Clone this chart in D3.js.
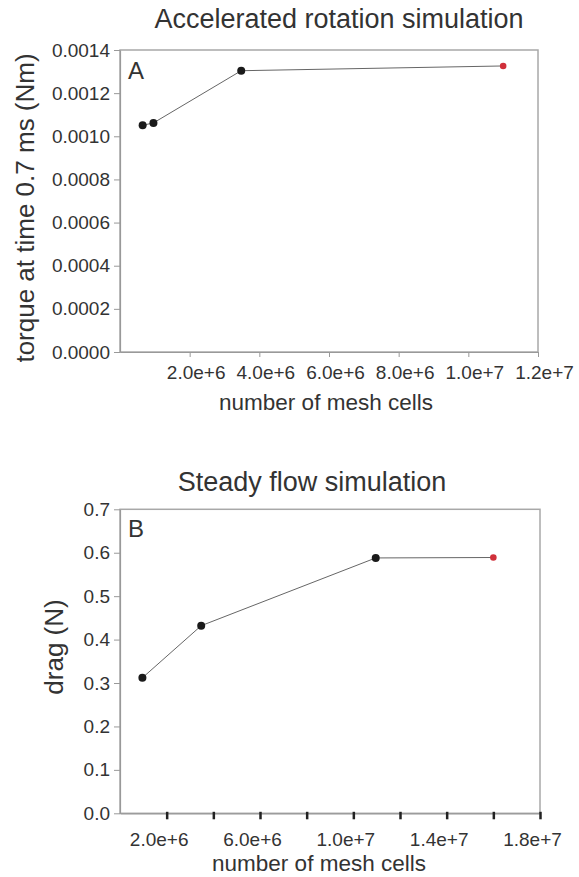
<!DOCTYPE html>
<html>
<head>
<meta charset="utf-8">
<script src="https://cdn.jsdelivr.net/npm/d3@7/dist/d3.min.js"></script>
<style>
  html, body { margin: 0; padding: 0; background: #fff; }
  svg { display: block; }
  text { font-family: "Liberation Sans", Arial, sans-serif; fill: #333; }
</style>
</head>
<body>
<svg id="chart" width="579" height="877"></svg>
<script>
// ---- Data ----
const cellsA = [0.65e6, 0.96e6, 3.48e6, 11.0e6];
const torqueA = [0.001051, 0.001062, 0.001304, 0.001326];
const cellsB = [0.96e6, 3.48e6, 10.96e6, 16.0e6];
const dragB = [0.312, 0.432, 0.588, 0.589];
const xTicksA = [2e6, 4e6, 6e6, 8e6, 10e6, 12e6];
const yTicksA = [0, 0.0002, 0.0004, 0.0006, 0.0008, 0.0010, 0.0012, 0.0014];
const xTicksB = [2e6, 4e6, 6e6, 8e6, 10e6, 12e6, 14e6, 16e6, 18e6];
const xLabelsB = [2e6, 6e6, 10e6, 14e6, 18e6];
const yTicksB = [0, 0.1, 0.2, 0.3, 0.4, 0.5, 0.6, 0.7];

const svg = d3.select("#chart");
const fmtE = d3.format(".1e");
const FONT = '"Liberation Sans", Arial, sans-serif';

function panel(cfg) {
  const g = svg.append("g");
  const x = d3.scaleLinear().domain(cfg.xDomain).range([cfg.left, cfg.right]);
  const y = d3.scaleLinear().domain(cfg.yDomain).range([cfg.bottom, cfg.top]);

  // frame
  g.append("rect")
    .attr("x", cfg.left).attr("y", cfg.top)
    .attr("width", cfg.right - cfg.left).attr("height", cfg.bottom - cfg.top)
    .attr("fill", "none").attr("stroke", "#a8a8a8").attr("stroke-width", 1.5);

  // y axis
  const ya = g.append("g").attr("transform", `translate(${cfg.left},0)`)
    .call(d3.axisLeft(y).tickValues(cfg.yTicks).tickFormat(d3.format(cfg.yFmt))
      .tickSizeInner(6).tickSizeOuter(0).tickPadding(4));
  ya.select(".domain").attr("stroke", "#999").attr("stroke-width", 1.2);
  ya.selectAll(".tick line").attr("stroke", "#999");
  ya.selectAll(".tick text").style("font-size", "19px").style("font-family", FONT).attr("fill", "#333");

  // x axis
  const xa = g.append("g").attr("transform", `translate(0,${cfg.bottom})`)
    .call(d3.axisBottom(x).tickValues(cfg.xTicks)
      .tickFormat(d => cfg.xLabels.includes(d) ? fmtE(d) : "")
      .tickSizeInner(cfg.xTickSize).tickSizeOuter(0).tickPadding(cfg.xPad));
  xa.select(".domain").attr("stroke", "#999").attr("stroke-width", 1.2);
  xa.selectAll(".tick line").attr("stroke", cfg.xTickColor).attr("stroke-width", cfg.xTickWidth)
    .attr("y1", cfg.xTickY1);
  xa.selectAll(".tick text").style("font-size", "19px").style("font-family", FONT)
    .attr("fill", "#333").attr("dx", cfg.xLabelDx);

  // line
  const pts = cfg.xs.map((v, i) => [v, cfg.ys[i]]);
  g.append("path").datum(pts)
    .attr("fill", "none").attr("stroke", "#666").attr("stroke-width", 1)
    .attr("d", d3.line().x(d => x(d[0])).y(d => y(d[1])));

  g.selectAll("circle").data(pts).enter().append("circle")
    .attr("cx", d => x(d[0])).attr("cy", d => y(d[1]))
    .attr("r", (d, i) => i === pts.length - 1 ? 3.3 : 4)
    .attr("fill", (d, i) => i === pts.length - 1 ? "#d0303a" : "#1a1a1a");

  // titles
  g.append("text").attr("x", cfg.titleX).attr("y", cfg.titleY)
    .attr("text-anchor", "middle").style("font-size", "27px").text(cfg.title);
  g.append("text").attr("x", cfg.left + 8).attr("y", cfg.letterY)
    .style("font-size", "24px").text(cfg.letter);
  g.append("text").attr("x", cfg.xTitleX).attr("y", cfg.xTitleY)
    .attr("text-anchor", "middle").style("font-size", "22.5px").text("number of mesh cells");
  g.append("text")
    .attr("transform", `translate(${cfg.yTitleX},${cfg.yTitleY}) rotate(-90)`)
    .attr("text-anchor", "middle").style("font-size", cfg.yTitleSize).text(cfg.yTitle);
}

panel({
  xDomain: [0, 1.2e7], yDomain: [0, 0.0014],
  left: 120, right: 538, top: 50, bottom: 352,
  xTicks: xTicksA, xLabels: xTicksA, yTicks: yTicksA, yFmt: ".4f",
  xTickSize: 5, xPad: 9, xTickColor: "#999", xTickWidth: 1, xTickY1: 0, xLabelDx: 6,
  xs: cellsA, ys: torqueA,
  title: "Accelerated rotation simulation", titleX: 339, titleY: 28,
  letter: "A", letterY: 79,
  xTitleX: 326, xTitleY: 410,
  yTitle: "torque at time 0.7 ms (Nm)", yTitleX: 34, yTitleY: 208, yTitleSize: "26px"
});

panel({
  xDomain: [0, 1.8e7], yDomain: [0, 0.7],
  left: 120, right: 540, top: 509.3, bottom: 813.3,
  xTicks: xTicksB, xLabels: xLabelsB, yTicks: yTicksB, yFmt: ".1f",
  xTickSize: 6, xPad: 13, xTickColor: "#222", xTickWidth: 2.5, xTickY1: -1.5, xLabelDx: -8,
  xs: cellsB, ys: dragB,
  title: "Steady flow simulation", titleX: 312, titleY: 490.5,
  letter: "B", letterY: 537,
  xTitleX: 319, xTitleY: 871,
  yTitle: "drag (N)", yTitleX: 63, yTitleY: 647, yTitleSize: "26px"
});
</script>
</body>
</html>
